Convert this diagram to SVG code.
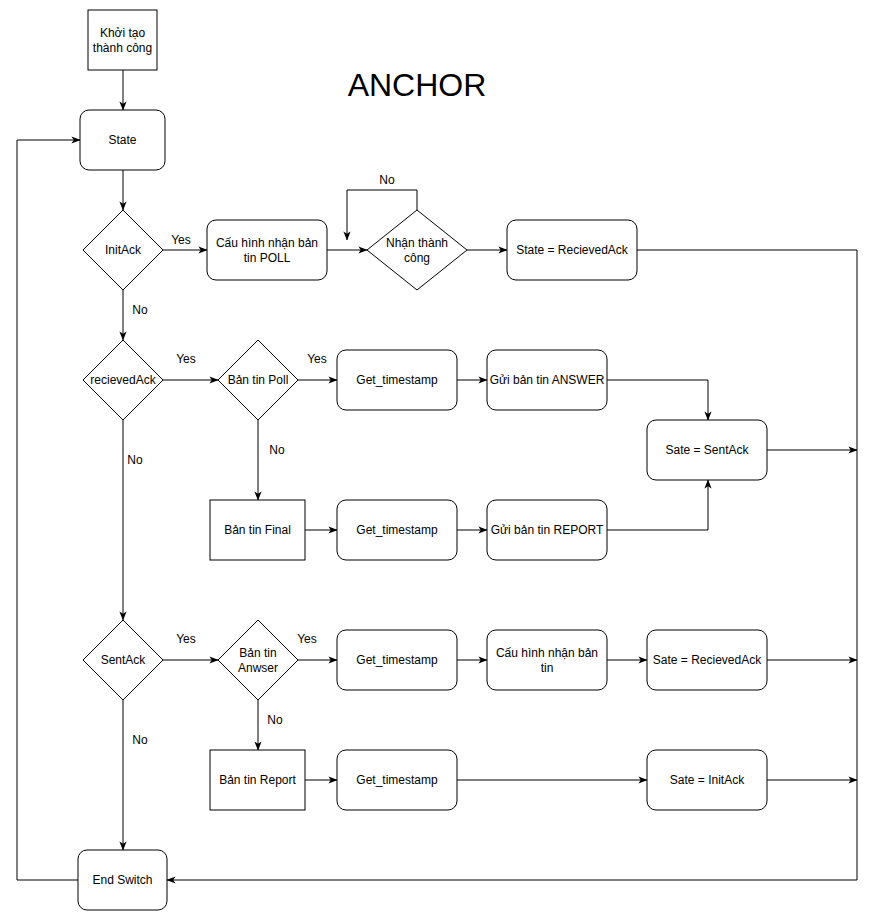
<svg xmlns="http://www.w3.org/2000/svg" width="877" height="922" viewBox="0 0 877 922">
<defs>
<marker id="arr" viewBox="0 0 10 10" markerWidth="9" markerHeight="9" refX="9.5" refY="5" orient="auto" markerUnits="userSpaceOnUse">
<path d="M0,1 L10,5 L0,9 L2.5,5 z" fill="#000"/>
</marker>
</defs>
<style>
.b{fill:#fff;stroke:#000;stroke-width:1}
.t{font-family:"Liberation Sans",Arial,sans-serif;font-size:12px;fill:#000;text-anchor:middle;dominant-baseline:central}
.l{font-family:"Liberation Sans",Arial,sans-serif;font-size:12px;fill:#000;text-anchor:middle;dominant-baseline:central}
.c{fill:none;stroke:#000;stroke-width:1}
.a{fill:none;stroke:#000;stroke-width:1;marker-end:url(#arr)}
</style>
<rect width="877" height="922" fill="#fff"/>
<text x="417" y="85" style="font-family:'Liberation Sans',Arial,sans-serif;font-size:32px;fill:#000;text-anchor:middle;dominant-baseline:central">ANCHOR</text>

<g id="connectors">
<path class="a" d="M123,70 L123,110"/>
<path class="a" d="M123,170 L123,210"/>
<path class="a" d="M163,250 L207,250"/>
<path class="a" d="M327,250 L367,250"/>
<path class="a" d="M417,210 L417,190 L347,190 L347,240"/>
<path class="a" d="M467,250 L507,250"/>
<path class="a" d="M637,250 L857,250 L857,880 L167,880"/>
<path class="a" d="M78,880 L17,880 L17,140 L80,140"/>
<path class="a" d="M123,290 L123,340"/>
<path class="a" d="M163,380 L218,380"/>
<path class="a" d="M298,380 L337,380"/>
<path class="a" d="M457,380 L487,380"/>
<path class="a" d="M607,380 L708,380 L708,420"/>
<path class="a" d="M767,450 L857,450"/>
<path class="a" d="M258,420 L258,500"/>
<path class="a" d="M305,530 L337,530"/>
<path class="a" d="M457,530 L487,530"/>
<path class="a" d="M607,530 L708,530 L708,480"/>
<path class="a" d="M123,420 L123,620"/>
<path class="a" d="M163,660 L218,660"/>
<path class="a" d="M298,660 L337,660"/>
<path class="a" d="M457,660 L487,660"/>
<path class="a" d="M607,660 L647,660"/>
<path class="a" d="M767,660 L857,660"/>
<path class="a" d="M258,700 L258,750"/>
<path class="a" d="M305,780 L337,780"/>
<path class="a" d="M457,780 L647,780"/>
<path class="a" d="M767,780 L857,780"/>
<path class="a" d="M123,700 L123,850"/>
<text class="l" x="181" y="240">Yes</text>
<text class="l" x="140" y="310">No</text>
<text class="l" x="387" y="180">No</text>
<text class="l" x="186" y="359">Yes</text>
<text class="l" x="317" y="359">Yes</text>
<text class="l" x="277" y="450">No</text>
<text class="l" x="135" y="460">No</text>
<text class="l" x="186" y="639">Yes</text>
<text class="l" x="307" y="639">Yes</text>
<text class="l" x="275" y="720">No</text>
<text class="l" x="140" y="740">No</text>
</g>

<g id="n_init"><rect class="b" x="88" y="10" width="69" height="60"/><text class="t" x="122.5" y="33">Khởi tạo</text><text class="t" x="122.5" y="48">thành công</text></g>
<g id="n_state"><rect class="b" x="80" y="110" width="85" height="60" rx="9"/><text class="t" x="122.5" y="140">State</text></g>
<g id="n_initack"><path class="b" d="M123,210 L163,250 L123,290 L83,250 Z"/><text class="t" x="123" y="250">InitAck</text></g>
<g id="n_cfgpoll"><rect class="b" x="207" y="220" width="120" height="60" rx="9"/><text class="t" x="267" y="243">Cấu hình nhận bản</text><text class="t" x="267" y="258">tin POLL</text></g>
<g id="n_recv"><path class="b" d="M417,210 L467,250 L417,290 L367,250 Z"/><text class="t" x="417" y="243">Nhận thành</text><text class="t" x="417" y="258">công</text></g>
<g id="n_staterecv"><rect class="b" x="507" y="220" width="130" height="60" rx="9"/><text class="t" x="572" y="250">State = RecievedAck</text></g>
<g id="n_recvack"><path class="b" d="M123,340 L163,380 L123,420 L83,380 Z"/><text class="t" x="123" y="380">recievedAck</text></g>
<g id="n_poll"><path class="b" d="M258,340 L298,380 L258,420 L218,380 Z"/><text class="t" x="258" y="380">Bản tin Poll</text></g>
<g id="n_ts1"><rect class="b" x="337" y="350" width="120" height="60" rx="9"/><text class="t" x="397" y="380">Get_timestamp</text></g>
<g id="n_answer"><rect class="b" x="487" y="350" width="120" height="60" rx="9"/><text class="t" x="547" y="380">Gửi bản tin ANSWER</text></g>
<g id="n_sentack"><rect class="b" x="647" y="420" width="120" height="60" rx="9"/><text class="t" x="707" y="450">Sate = SentAck</text></g>
<g id="n_final"><rect class="b" x="210" y="500" width="95" height="60"/><text class="t" x="257.5" y="530">Bản tin Final</text></g>
<g id="n_ts2"><rect class="b" x="337" y="500" width="120" height="60" rx="9"/><text class="t" x="397" y="530">Get_timestamp</text></g>
<g id="n_report"><rect class="b" x="487" y="500" width="120" height="60" rx="9"/><text class="t" x="547" y="530">Gửi bản tin REPORT</text></g>
<g id="n_sentackd"><path class="b" d="M123,620 L163,660 L123,700 L83,660 Z"/><text class="t" x="123" y="660">SentAck</text></g>
<g id="n_anwser"><path class="b" d="M258,620 L298,660 L258,700 L218,660 Z"/><text class="t" x="258" y="653">Bản tin</text><text class="t" x="258" y="668">Anwser</text></g>
<g id="n_ts3"><rect class="b" x="337" y="630" width="120" height="60" rx="9"/><text class="t" x="397" y="660">Get_timestamp</text></g>
<g id="n_cfg"><rect class="b" x="487" y="630" width="120" height="60" rx="9"/><text class="t" x="547" y="653">Cấu hình nhận bản</text><text class="t" x="547" y="668">tin</text></g>
<g id="n_sr"><rect class="b" x="647" y="630" width="120" height="60" rx="9"/><text class="t" x="707" y="660">Sate = RecievedAck</text></g>
<g id="n_rep"><rect class="b" x="210" y="750" width="95" height="60"/><text class="t" x="257.5" y="780">Bản tin Report</text></g>
<g id="n_ts4"><rect class="b" x="337" y="750" width="120" height="60" rx="9"/><text class="t" x="397" y="780">Get_timestamp</text></g>
<g id="n_si"><rect class="b" x="647" y="750" width="120" height="60" rx="9"/><text class="t" x="707" y="780">Sate = InitAck</text></g>
<g id="n_end"><rect class="b" x="78" y="850" width="89" height="60" rx="9"/><text class="t" x="122.5" y="880">End Switch</text></g>
</svg>
